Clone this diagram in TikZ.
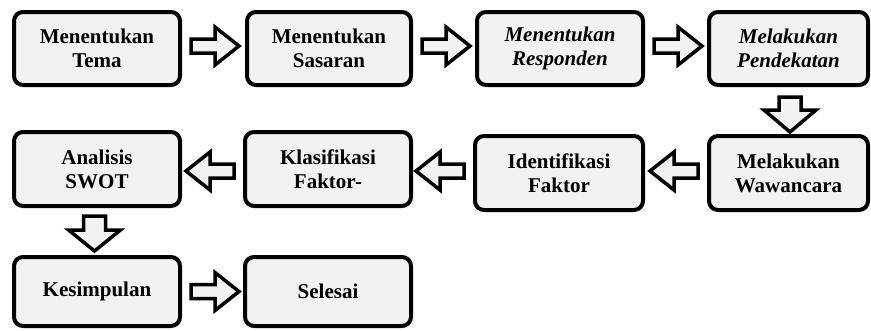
\documentclass[tikz,border=0pt]{standalone}
\usepackage{fontspec}
\setmainfont{Liberation Serif}
\usetikzlibrary{calc}
\definecolor{boxgray}{HTML}{F2F2F2}
\begin{document}
\begin{tikzpicture}[x=1pt,y=-1pt,
  box/.style={draw, line width=4pt, fill=boxgray, rounded corners=9pt, align=center,
    font=\bfseries\fontsize{21}{24}\selectfont, inner sep=0pt},
  it/.style={font=\bfseries\itshape\fontsize{21}{24}\selectfont},
  barrow/.style={draw, line width=3.5pt, fill=boxgray, line join=miter}]
\useasboundingbox (0,0) rectangle (871,330);
% row 1
\node[box, minimum width=166pt, minimum height=73pt] (n1) at (97,48.5) {Menentukan\\Tema};
\node[box, minimum width=164pt, minimum height=73pt] (n2) at (329,48.5) {Menentukan\\Sasaran};
\node[box, it, minimum width=166pt, minimum height=73pt] (n3) at (560,48.5) {Menentukan\\Responden};
\node[box, it, minimum width=159pt, minimum height=73pt] (n4) at (788.5,48.5) {Melakukan\\Pendekatan};
% row 2
\node[box, minimum width=159pt, minimum height=74pt] (n5) at (788.5,173) {Melakukan\\Wawancara};
\node[box, minimum width=168pt, minimum height=74pt] (n6) at (559,173) {Identifikasi\\Faktor};
\node[box, minimum width=166pt, minimum height=74pt] (n7) at (328,169) {Klasifikasi\\Faktor-};
\node[box, minimum width=166pt, minimum height=74pt] (n8) at (97,169) {Analisis\\SWOT};
% row 3
\node[box, minimum width=166pt, minimum height=69pt] (n9) at (97,291.5) {Kesimpulan};
\node[box, minimum width=166pt, minimum height=69pt] (n10) at (328,291.5) {Selesai};
% right arrows row 1
\foreach \a in {n1,n2,n3}{
  \draw[barrow] ($(\a.east)+(9,-9.5)$) -- ++(24,0) -- ++(0,-12) -- ++(24,19) -- ++(-24,19) -- ++(0,-12) -- ++(-24,0) -- cycle;
}
% down arrow n4 -> n5
\draw[barrow] ($(n4.south)+(-9.5,10)$) -- ++(0,13) -- ++(-15,0) -- ++(26,22) -- ++(26,-22) -- ++(-15,0) -- ++(0,-13) -- cycle;
% left arrows row 2
\foreach \a in {n5,n6}{
  \draw[barrow] ($(\a.west)+(-9,-9)$) -- ++(-24,0) -- ++(0,-12) -- ++(-24,19) -- ++(24,19) -- ++(0,-12) -- ++(24,0) -- cycle;
}
\draw[barrow] ($(n7.west)+(-9,-5)$) -- ++(-24,0) -- ++(0,-12) -- ++(-24,19) -- ++(24,19) -- ++(0,-12) -- ++(24,0) -- cycle;
% down arrow n8 -> n9
\draw[barrow] ($(n8.south)+(-13.5,8)$) -- ++(0,14) -- ++(-15,0) -- ++(26,21) -- ++(26,-21) -- ++(-15,0) -- ++(0,-14) -- cycle;
% right arrow n9 -> n10
\draw[barrow] ($(n9.east)+(9,-7)$) -- ++(24,0) -- ++(0,-12) -- ++(24,19) -- ++(-24,19) -- ++(0,-12) -- ++(-24,0) -- cycle;
\end{tikzpicture}
\end{document}
